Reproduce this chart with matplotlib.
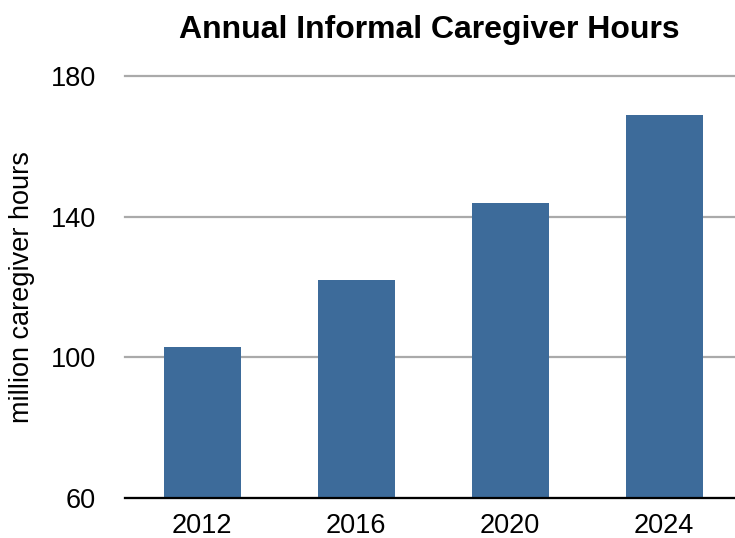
import matplotlib.pyplot as plt

plt.rcParams["font.family"] = ["Liberation Sans", "DejaVu Sans"]

years = ["2012", "2016", "2020", "2024"]
hours = [103, 122, 144, 169]
yticks = [60, 100, 140, 180]

fig = plt.figure(figsize=(7.35, 5.38), dpi=100)
ax = fig.add_axes([125 / 735, 40 / 538, 616 / 735, 422 / 538])

ax.bar(range(len(years)), hours, width=0.5, color="#3d6b9a", zorder=3)

ax.set_xlim(-0.5, 3.5)
ax.set_ylim(60, 180)
ax.set_yticks(yticks)
ax.set_xticks(range(len(years)))
ax.set_xticklabels(years)
ax.tick_params(axis="both", length=0, labelsize=19.5)
ax.tick_params(axis="x", pad=11)
ax.tick_params(axis="y", pad=21)

ax.yaxis.grid(True, color="#aaaaaa", linewidth=1.6, zorder=0, clip_on=False)
for s in ["top", "right", "left"]:
    ax.spines[s].set_visible(False)
ax.spines["bottom"].set_linewidth(1.6)
ax.spines["bottom"].set_zorder(4)

ax.set_ylabel("million caregiver hours", fontsize=19.5, labelpad=11)
fig.text(0.584, 0.945, "Annual Informal Caregiver Hours", ha="center",
         va="center", fontsize=23, fontweight="bold")

fig.savefig("out.png", dpi=100)
